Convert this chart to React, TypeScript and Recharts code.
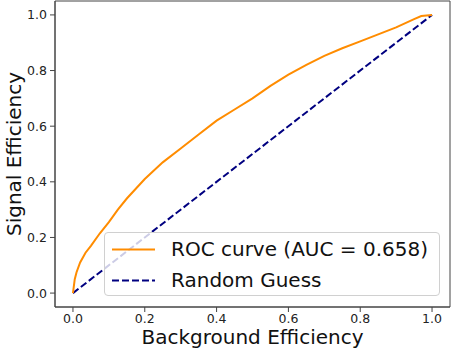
import { LineChart, Line, XAxis, YAxis, Legend, ReferenceArea } from 'recharts'

// ROC curve (false positive rate vs true positive rate)
const FPR = [0, 0.005, 0.01, 0.02, 0.035, 0.05, 0.075, 0.1, 0.125, 0.15, 0.2, 0.25, 0.3, 0.35, 0.4, 0.45, 0.5, 0.55, 0.6, 0.65, 0.7, 0.75, 0.8, 0.85, 0.9, 0.95, 0.97, 1]
const TPR = [0, 0.05, 0.075, 0.11, 0.145, 0.17, 0.215, 0.255, 0.3, 0.34, 0.41, 0.47, 0.52, 0.57, 0.62, 0.66, 0.7, 0.745, 0.785, 0.82, 0.853, 0.88, 0.905, 0.93, 0.955, 0.985, 0.996, 1]

const GUESS_X = [0, 1]
const GUESS_Y = [0, 1]

const TICKS = [0, 0.2, 0.4, 0.6, 0.8, 1.0]
const DOMAIN: [number, number] = [-0.05, 1.05]

const AUC_LABEL = 'ROC curve (AUC = 0.658)'
const GUESS_LABEL = 'Random Guess'

const ORANGE = '#ff8c00'
const NAVY = '#000080'
const FONT = '"DejaVu Sans", sans-serif'

const roc = FPR.map((x, i) => ({ x, y: TPR[i] }))
const guess = GUESS_X.map((x, i) => ({ x, y: GUESS_Y[i] }))

const LEGEND_ITEMS = [
  { label: AUC_LABEL, color: ORANGE, dash: undefined as string | undefined },
  { label: GUESS_LABEL, color: NAVY, dash: '7 3' },
]

function LegendBox() {
  return (
    <div
      style={{
        width: '100%',
        height: '100%',
        boxSizing: 'border-box',
        border: '1px solid #d0d0d0',
        borderRadius: 4,
        background: 'rgba(255,255,255,0.8)',
        paddingTop: 1,
        fontFamily: FONT,
        fontSize: 20,
        color: '#111',
      }}
    >
      {LEGEND_ITEMS.map((it) => (
        <div key={it.label} style={{ height: 31, display: 'flex', alignItems: 'center' }}>
          <svg width={66} height={31} style={{ flex: 'none' }}>
            <line x1={7} x2={50} y1={15.5} y2={15.5} stroke={it.color} strokeWidth={2} strokeDasharray={it.dash} />
          </svg>
          <span style={{ whiteSpace: 'nowrap', lineHeight: '31px' }}>{it.label}</span>
        </div>
      ))}
    </div>
  )
}

export default function App() {
  const tickStyle = { fontSize: 12.5, fill: '#222', fontFamily: FONT }
  return (
    <div style={{ position: 'absolute', left: 0, top: 0, background: '#fff' }}>
      <LineChart width={451} height={349} margin={{ top: 1, right: 1, left: 0, bottom: 0 }}>
        <XAxis
          dataKey="x"
          type="number"
          domain={DOMAIN}
          ticks={TICKS}
          tickFormatter={(v: number) => v.toFixed(1)}
          allowDataOverflow
          height={42}
          tick={tickStyle}
          tickSize={5}
          tickMargin={2}
          stroke="#444"
          label={{ value: 'Background Efficiency', position: 'insideBottom', offset: 5, fontSize: 20, fill: '#111', fontFamily: FONT }}
        />
        <YAxis
          dataKey="y"
          type="number"
          domain={DOMAIN}
          ticks={TICKS}
          tickFormatter={(v: number) => v.toFixed(1)}
          allowDataOverflow
          width={55}
          tick={tickStyle}
          tickSize={5}
          tickMargin={3}
          stroke="#444"
          label={{ value: 'Signal Efficiency', angle: -90, position: 'insideLeft', offset: 0, dx: 14, fontSize: 20, fill: '#111', fontFamily: FONT, style: { textAnchor: 'middle' } }}
        />
        <ReferenceArea x1={-0.05} x2={1.05} y1={-0.05} y2={1.05} fill="none" stroke="#444" strokeWidth={1} ifOverflow="visible" />
        <Line
          data={guess}
          dataKey="y"
          type="linear"
          stroke={NAVY}
          strokeWidth={2}
          strokeDasharray="7 3"
          dot={false}
          isAnimationActive={false}
        />
        <Line
          data={roc}
          dataKey="y"
          type="linear"
          stroke={ORANGE}
          strokeWidth={2}
          dot={false}
          isAnimationActive={false}
        />
        <Legend
          layout="horizontal"
          verticalAlign="middle"
          align="center"
          wrapperStyle={{ left: 104, top: 232, width: 336, height: 64 }}
          content={() => <LegendBox />}
        />
      </LineChart>
    </div>
  )
}
